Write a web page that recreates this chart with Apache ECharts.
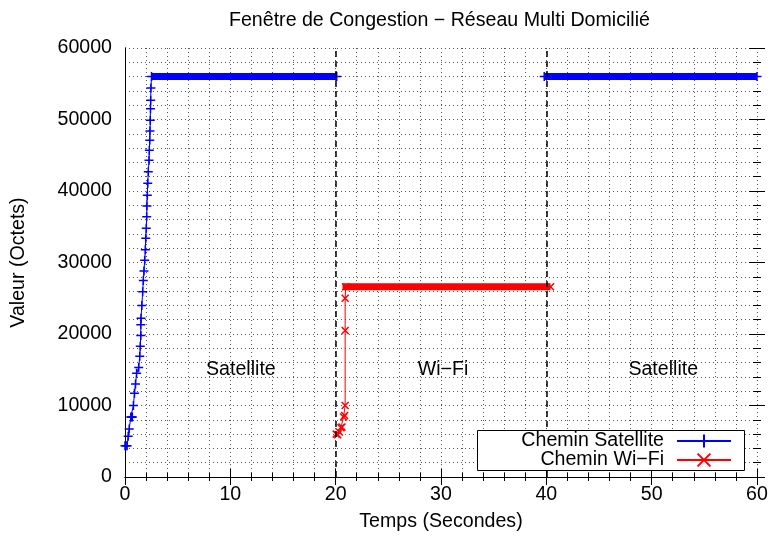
<!DOCTYPE html>
<html lang="fr">
<head>
<meta charset="UTF-8">
<title>Fenêtre de Congestion</title>
<script src="https://cdn.jsdelivr.net/npm/echarts@6/dist/echarts.min.js"></script>
</head>
<body style="margin:0;background:#fff;">
<div id="main" style="width:772px;height:538px;"></div>
<script type="text/javascript">
    // données (temps en s, valeur en octets)
    var satTemps = [0, 0.1, 0.2, 0.3, 0.4, 0.55, 0.62, 0.7, 0.8, 0.9, 1.0, 1.1, 1.3, 1.4, 1.45, 1.5, 1.5, 1.52, 1.6, 1.68, 1.74, 1.8, 1.87, 1.93, 1.97, 2.02, 2.06, 2.08, 2.12, 2.16, 2.21, 2.28, 2.31, 2.35, 2.37, 2.4, 2.42, 2.44, 2.46, 2.52, 20.1, 30, 39.8, 60];
    var satValeurs = [4380, 4380, 4380, 5700, 6700, 8400, 8400, 8400, 10000, 11700, 13000, 14500, 15300, 16900, 18300, 19800, 21300, 22200, 24000, 25900, 27500, 28800, 30300, 31800, 33400, 34800, 36400, 37900, 39400, 41100, 42700, 44300, 45700, 47100, 48400, 49900, 51500, 52700, 54400, 56000, 56000, '-', 56000, 56000];
    var wifiTemps = [20.05, 20.2, 20.35, 20.5, 20.6, 20.75, 20.85, 20.9, 20.9, 20.9, 20.95, 40.4];
    var wifiValeurs = [6000, 5900, 6300, 6900, 7000, 8400, 8600, 10000, 20500, 25000, 26600, 26600];
    // paliers pleins (marqueurs superposés)
    var satPaliers = [[2.55, 56000], [20.1, 56000], [30, '-'], [39.8, 56000], [60, 56000]];
    var wifiPalier = [[20.65, 26600], [40.4, 26600]];
    var separations = [20, 40];
    var zonesNoms = ['Satellite', 'Wi\u2212Fi', 'Satellite'];
    var zonesX = [11, 30.2, 51.1];
    var zonesY = [15000, 15000, 15000];

    var police = '"Liberation Sans", Arial, sans-serif';
    var taille = 19.6;
    var plus = 'path://M0,5L10,5M5,0L5,10';
    var croix = 'path://M0,0L10,10M10,0L0,10';
    var largeurGrille = 772 - 125 - 15;
    var hauteurGrille = 538 - 48 - 61;

    function paires(xs, ys) {
        return xs.map(function (x, i) { return [x, ys[i]]; });
    }

    var myChart = echarts.init(document.getElementById('main'));

    var noir = { color: '#000', width: 1 };
    var grille = { show: true, lineStyle: { color: '#555', type: [1, 3], width: 1 } };

    // axes principaux : étiquettes + cadre, sans graduations
    function axeX(extra) {
        return Object.assign({
            type: 'value', min: 0, max: 60, interval: 10,
            axisLine: { show: true, lineStyle: noir },
            axisTick: { show: false }, minorTick: { show: false },
            axisLabel: { show: false }, splitLine: { show: false }
        }, extra);
    }
    function axeY(extra) {
        return Object.assign({
            type: 'value', min: 0, max: 60000, interval: 10000,
            axisLine: { show: true, lineStyle: noir },
            axisTick: { show: false }, minorTick: { show: false },
            axisLabel: { show: false }, splitLine: { show: false }
        }, extra);
    }
    // graduations vers l'intérieur : axe placé du côté opposé puis décalé
    var graduations = {
        axisLine: { show: false },
        axisTick: { show: true, length: 8, lineStyle: noir },
        minorTick: { show: true, splitNumber: 5, length: 4, lineStyle: noir }
    };

    option = {
        animation: false,
        backgroundColor: '#fff',
        textStyle: { fontFamily: police },
        title: {
            text: 'Fenêtre de Congestion \u2212 Réseau Multi Domicilié',
            left: 224, top: 6,
            textStyle: { fontFamily: police, fontSize: taille, fontWeight: 'normal', color: '#000' }
        },
        grid: { left: 125, right: 15, top: 48, bottom: 61 },
        graphic: [{
            type: 'rect', left: 477, top: 430, z: 10,
            shape: { width: 267, height: 40 },
            style: { fill: '#fff', stroke: '#000', lineWidth: 1 }
        }],
        legend: [{
            data: ['Chemin Satellite'], orient: 'vertical', align: 'right', padding: 0,
            right: 40, top: 431, itemWidth: 54, itemHeight: 16, z: 20,
            textStyle: { fontFamily: police, fontSize: taille, color: '#000', padding: [0, 8, 0, 0] }
        }, {
            data: ['Chemin Wi\u2212Fi'], orient: 'vertical', align: 'right', padding: 0,
            right: 40, top: 450, itemWidth: 54, itemHeight: 16, z: 20,
            textStyle: { fontFamily: police, fontSize: taille, color: '#000', padding: [0, 8, 0, 0] }
        }],
        xAxis: [
            axeX({
                position: 'bottom',
                name: 'Temps (Secondes)', nameLocation: 'middle', nameGap: 35,
                nameTextStyle: { fontFamily: police, fontSize: taille, color: '#000' },
                axisLabel: { show: true, fontFamily: police, fontSize: taille, color: '#000', margin: 8 },
                splitLine: grille, minorTick: { show: false, splitNumber: 5 }, minorSplitLine: grille
            }),
            axeX({ position: 'top' }),
            axeX(Object.assign({ position: 'top', offset: -hauteurGrille }, graduations)),
            axeX(Object.assign({ position: 'bottom', offset: -hauteurGrille }, graduations))
        ],
        yAxis: [
            axeY({
                position: 'left',
                name: 'Valeur (Octets)', nameLocation: 'middle', nameGap: 96,
                nameTextStyle: { fontFamily: police, fontSize: taille, color: '#000' },
                axisLabel: {
                    show: true, fontFamily: police, fontSize: taille, color: '#000', margin: 13,
                    formatter: function (v) { return String(v); }
                },
                splitLine: grille, minorTick: { show: false, splitNumber: 5 }, minorSplitLine: grille
            }),
            axeY({ position: 'right' }),
            axeY(Object.assign({ position: 'right', offset: -largeurGrille }, graduations)),
            axeY(Object.assign({ position: 'left', offset: -largeurGrille }, graduations))
        ],
        series: [
            {
                name: 'paliers satellite', type: 'line', data: satPaliers,
                showSymbol: false, connectNulls: false, silent: true,
                lineStyle: { color: '#0000ff', width: 7 }, z: 3,
                markLine: {
                    silent: true, symbol: 'none', label: { show: false },
                    lineStyle: { color: '#000', type: [6, 4], width: 1.5 },
                    data: separations.map(function (s) { return { xAxis: s }; })
                }
            },
            {
                name: 'palier wifi', type: 'line', data: wifiPalier,
                showSymbol: false, silent: true,
                lineStyle: { color: '#ff0000', width: 7 }, z: 3
            },
            {
                name: 'Chemin Satellite', type: 'line', data: paires(satTemps, satValeurs),
                symbol: plus, symbolSize: 9, connectNulls: false,
                lineStyle: { color: '#0000ff', width: 1 },
                itemStyle: { color: '#0000ff', borderColor: '#0000ff', borderWidth: 1.5 }, z: 4
            },
            {
                name: 'Chemin Wi\u2212Fi', type: 'line', data: paires(wifiTemps, wifiValeurs),
                symbol: croix, symbolSize: 7,
                lineStyle: { color: '#ff0000', width: 1 },
                itemStyle: { color: '#ff0000', borderColor: '#ff0000', borderWidth: 1.5 }, z: 4
            },
            {
                // étiquettes des zones, placées par les échelles du graphe
                name: 'zones', type: 'custom', silent: true, z: 5,
                data: paires(zonesX, zonesY),
                renderItem: function (params, api) {
                    var p = api.coord([api.value(0), api.value(1)]);
                    return {
                        type: 'text', x: p[0], y: p[1],
                        style: {
                            text: zonesNoms[params.dataIndex], fill: '#000',
                            font: taille + 'px ' + police,
                            align: 'center', verticalAlign: 'middle'
                        }
                    };
                }
            }
        ]
    };

    myChart.setOption(option);
</script>
</body>
</html>
